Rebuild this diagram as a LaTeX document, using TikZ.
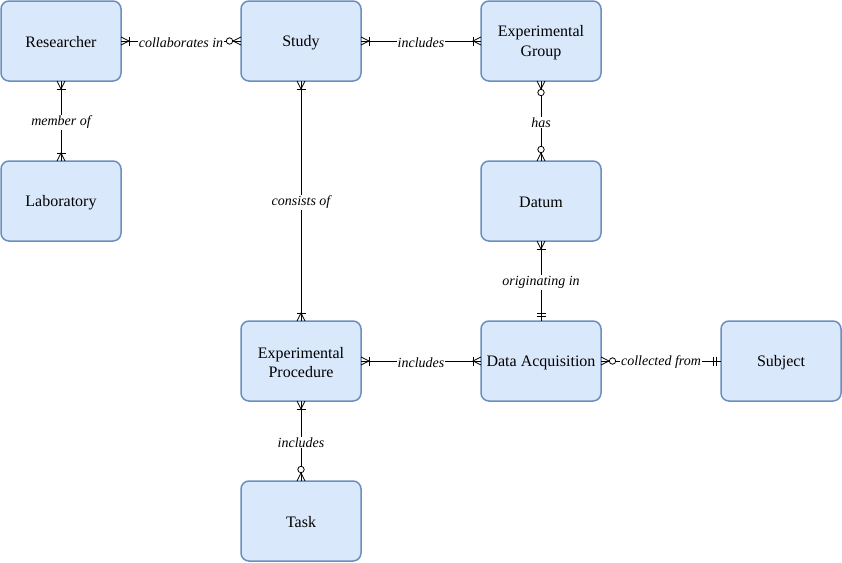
\documentclass[tikz,border=0pt]{standalone}
\usepackage{fontspec}
\setmainfont{Liberation Serif}
\definecolor{boxfill}{HTML}{DAE8FC}
\definecolor{boxline}{HTML}{6C8EBF}
\begin{document}
\begin{tikzpicture}[x=1pt,y=-1pt,
  entity/.style={draw=boxline,fill=boxfill,line width=1.5pt,rounded corners=8pt,
    minimum width=120pt,minimum height=80pt,outer sep=0pt,align=center,
    font=\fontsize{16}{19.5}\selectfont,inner sep=2pt},
  etext/.style={align=center,font=\fontsize{16}{19.5}\selectfont,inner sep=0pt},
  rel/.style={draw=black,line width=0.8pt},
  lbl/.style={fill=white,inner sep=1pt,yshift=-1.5pt,font=\fontsize{14}{16}\selectfont\itshape},
  pics/onemany/.style={code={
    \draw[line width=0.8pt] (0,4)--(8,0)--(0,-4);
    \draw[line width=0.8pt] (8,4.5)--(8,-4.5);}},
  pics/zeromany/.style={code={
    \draw[line width=0.8pt] (0,4)--(8,0)--(0,-4);
    \draw[line width=0.8pt,fill=white] (11.5,0) circle (3.2pt);}},
  pics/mandone/.style={code={
    \draw[line width=0.8pt] (4.5,4.5)--(4.5,-4.5);
    \draw[line width=0.8pt] (8,4.5)--(8,-4.5);}}
]
\useasboundingbox (0,0) rectangle (842,562);
\node[entity] (res) at (61,41) {};
\node[entity] (study) at (301,41) {};
\node[entity] (grp) at (541,41) {};
\node[entity] (lab) at (61,201) {};
\node[entity] (dat) at (541,201) {};
\node[entity] (proc) at (301,361) {};
\node[entity] (acq) at (541,361) {};
\node[entity] (subj) at (781,361) {};
\node[entity] (task) at (301,521) {};
\node[etext] (tres) at ([yshift=-1.5pt]res.center) {Researcher};
\node[etext] (tstudy) at ([yshift=-1.5pt]study.center) {Study};
\node[etext] (tgrp) at ([yshift=-1.5pt]grp.center) {Experimental\\Group};
\node[etext] (tlab) at ([yshift=-1.5pt]lab.center) {Laboratory};
\node[etext] (tdat) at ([yshift=-1.5pt]dat.center) {Datum};
\node[etext] (tproc) at ([yshift=-1.5pt]proc.center) {Experimental\\Procedure};
\node[etext] (tacq) at ([yshift=-1.5pt]acq.center) {Data Acquisition};
\node[etext] (tsubj) at ([yshift=-1.5pt]subj.center) {Subject};
\node[etext] (ttask) at ([yshift=-1.5pt]task.center) {Task};

\draw[rel] (res.east) -- node[lbl] {collaborates in} (study.west);
\draw[rel] (study.east) -- node[lbl] {includes} (grp.west);
\draw[rel] (res.south) -- node[lbl] {member of} (lab.north);
\draw[rel] (grp.south) -- node[lbl] {has} (dat.north);
\draw[rel] (dat.south) -- node[lbl] {originating in} (acq.north);
\draw[rel] (study.south) -- node[lbl] {consists of} (proc.north);
\draw[rel] (proc.east) -- node[lbl] {includes} (acq.west);
\draw[rel] (acq.east) -- node[lbl] {collected from} (subj.west);
\draw[rel] (proc.south) -- node[lbl] {includes} (task.north);

\pic[rotate=0] at (res.east) {onemany};
\pic[rotate=180] at (study.west) {zeromany};
\pic[rotate=0] at (study.east) {onemany};
\pic[rotate=180] at (grp.west) {onemany};
\pic[rotate=-90] at (res.south) {onemany};
\pic[rotate=90] at (lab.north) {onemany};
\pic[rotate=-90] at (grp.south) {zeromany};
\pic[rotate=90] at (dat.north) {zeromany};
\pic[rotate=-90] at (dat.south) {onemany};
\pic[rotate=90] at (acq.north) {mandone};
\pic[rotate=-90] at (study.south) {onemany};
\pic[rotate=90] at (proc.north) {onemany};
\pic[rotate=0] at (proc.east) {onemany};
\pic[rotate=180] at (acq.west) {onemany};
\pic[rotate=0] at (acq.east) {zeromany};
\pic[rotate=180] at (subj.west) {mandone};
\pic[rotate=-90] at (proc.south) {onemany};
\pic[rotate=90] at (task.north) {zeromany};
\end{tikzpicture}
\end{document}
